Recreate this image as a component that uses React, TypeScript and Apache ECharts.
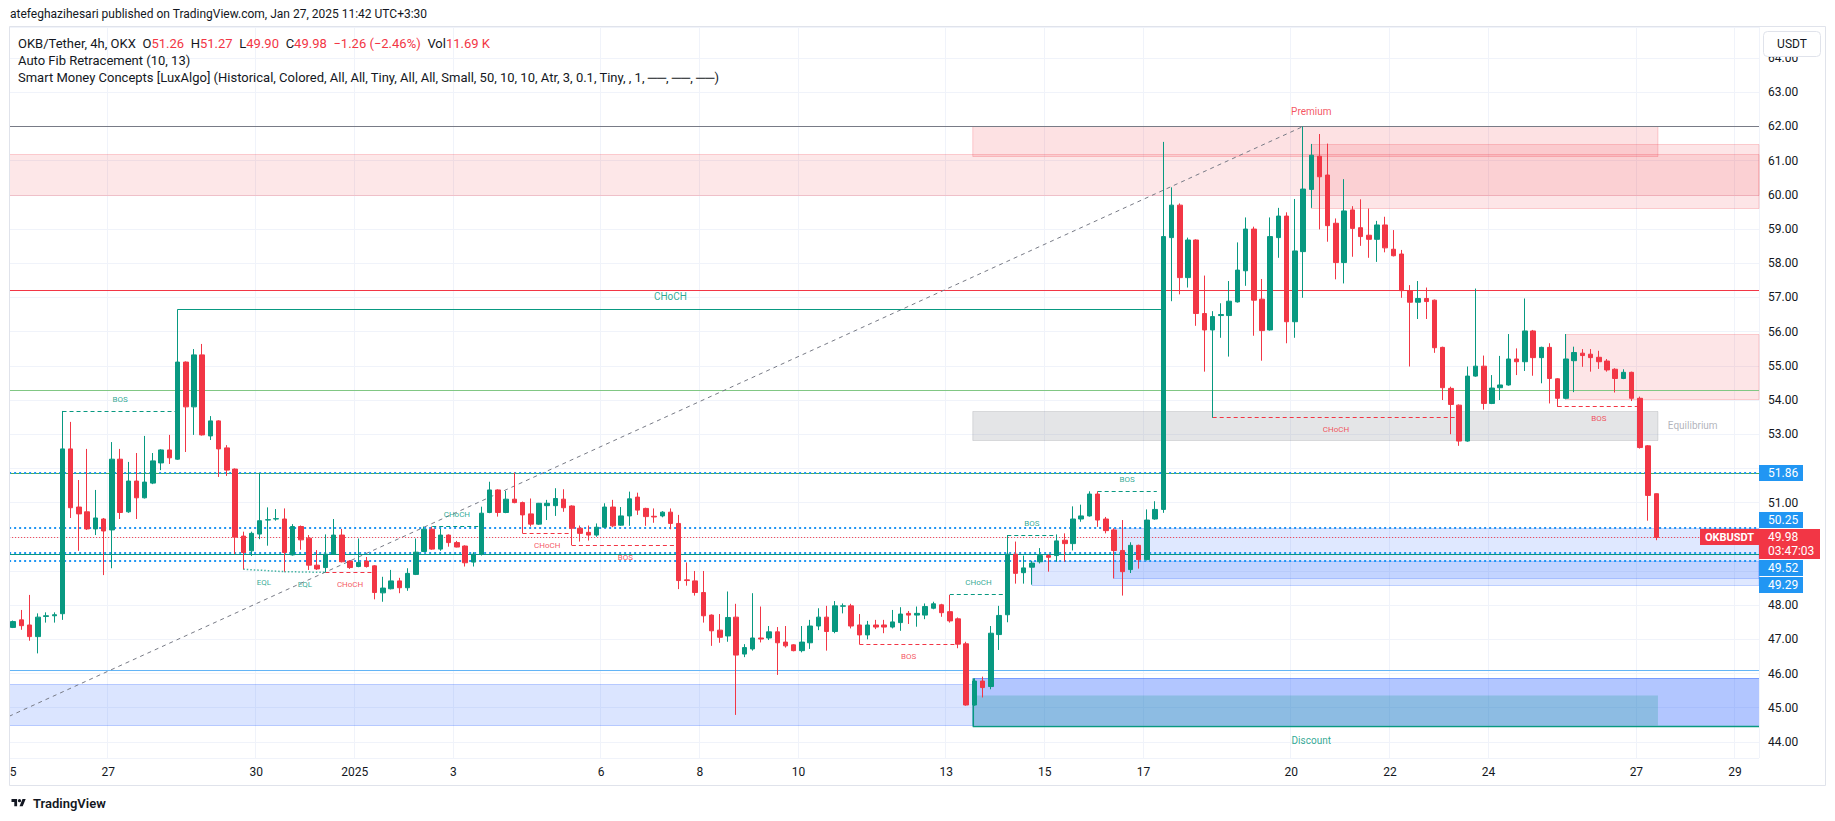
import React, { useEffect, useRef } from "react";
import * as echarts from "echarts";

const FONT = "Roboto, 'Liberation Sans', Arial, sans-serif";
const UP = "#089981";
const DOWN = "#F23645";
const TEXT = "#131722";
const GRID = "#f0f3fa";

// ---- 4h candles, Dec 25 -> Jan 27 ----
const opens = [
  47.35, 47.57, 47.42, 47.08, 47.67, 47.69, 47.75, 52.57, 50.87, 50.73,
  50.23, 50.52, 50.2, 52.27, 50.73, 51.63, 51.14, 51.57, 52.16, 52.54,
  52.27, 55.11, 53.8, 55.32, 52.95, 53.39, 52.6, 51.98, 50.02, 49.59,
  50.08, 50.49, 50.52, 50.52, 49.47, 50.3, 49.96, 49.17, 49.1, 49.49,
  50.05, 49.29, 49.13, 49.29, 49.15, 48.36, 48.48, 48.71, 48.51, 48.9,
  49.57, 50.22, 49.64, 50.05, 49.83, 49.73, 49.26, 49.49, 50.71, 51.37,
  50.71, 51.1, 51.0, 50.67, 50.37, 50.91, 50.91, 51.1, 50.9, 50.25,
  50.13, 50.05, 50.28, 50.87, 50.34, 50.61, 51.16, 50.83, 50.6, 50.61,
  50.72, 50.39, 48.74, 48.71, 48.37, 47.71, 47.27, 47.1, 47.65, 46.57,
  46.72, 47.04, 47.04, 47.22, 46.92, 46.84, 46.67, 46.9, 47.39, 47.65,
  47.23, 47.97, 47.98, 47.42, 47.13, 47.42, 47.42, 47.36, 47.49, 47.76,
  47.71, 47.71, 47.91, 48.01, 47.81, 47.6, 46.87, 45.08, 45.78, 45.62,
  47.14, 47.72, 49.49, 48.95, 49.11, 49.27, 49.45, 49.45, 49.9, 49.8,
  50.52, 50.61, 51.25, 50.52, 50.2, 49.6, 49.04, 49.75, 49.33, 50.52,
  50.8, 58.75, 59.7, 57.58, 58.68, 56.53, 56.05, 56.47, 56.47, 56.87,
  57.78, 59.0, 56.95, 56.05, 58.75, 59.38, 56.29, 58.34, 60.16, 61.13,
  60.58, 59.17, 58.02, 59.56, 59.04, 58.82, 58.7, 59.12, 58.41, 58.27,
  57.2, 56.86, 56.97, 56.92, 55.54, 54.34, 53.85, 52.8, 54.7, 54.99,
  53.9, 54.36, 54.44, 55.2, 55.12, 56.02, 55.24, 55.54, 54.62, 54.05,
  55.15, 55.37, 55.34, 55.25, 55.14, 54.9, 54.63, 54.81, 54.05, 52.66,
  51.26,
];
const highs = [
  47.55, 47.86, 48.3, 47.76, 47.79, 47.79, 53.68, 53.36, 51.66, 52.57,
  51.37, 50.55, 52.77, 52.57, 52.19, 52.45, 52.95, 52.45, 52.56, 52.98,
  56.65, 55.13, 55.49, 55.64, 53.53, 53.41, 52.68, 52.0, 50.15, 50.15,
  51.86, 50.86, 50.81, 50.83, 50.37, 50.33, 50.05, 49.61, 50.07, 50.52,
  50.23, 49.31, 49.95, 49.41, 49.17, 48.83, 49.03, 48.8, 49.08, 49.95,
  50.3, 50.3, 50.23, 50.07, 49.88, 49.75, 49.55, 50.88, 51.61, 51.39,
  51.34, 51.88, 51.03, 51.12, 50.99, 51.08, 51.42, 51.39, 50.92, 50.33,
  50.33, 50.39, 50.98, 51.08, 50.87, 51.32, 51.29, 50.85, 50.83, 50.75,
  50.83, 50.64, 49.25, 49.0, 49.0, 47.73, 47.74, 48.4, 48.04, 46.86,
  48.35, 47.96, 47.39, 47.36, 47.39, 46.86, 47.39, 47.57, 47.91, 47.98,
  48.12, 48.05, 48.04, 47.74, 47.54, 47.57, 47.57, 47.86, 47.94, 47.83,
  47.96, 48.05, 48.1, 48.04, 48.3, 47.64, 46.93, 45.86, 45.91, 47.39,
  47.98, 50.05, 49.86, 49.45, 49.3, 49.67, 49.49, 50.07, 50.1, 50.89,
  50.94, 51.33, 51.33, 50.58, 50.25, 50.49, 49.84, 49.77, 50.8, 51.04,
  61.55, 60.22, 59.75, 58.75, 58.7, 57.64, 56.6, 56.83, 57.48, 58.61,
  59.34, 59.07, 57.54, 59.34, 59.62, 59.49, 59.88, 62.0, 61.49, 61.78,
  61.5, 59.31, 60.46, 59.67, 59.87, 59.6, 59.24, 59.36, 58.97, 58.39,
  57.36, 57.48, 57.29, 56.94, 55.56, 54.39, 53.87, 54.98, 57.26, 55.3,
  54.73, 55.29, 55.93, 55.51, 56.97, 56.05, 55.56, 55.66, 54.64, 55.93,
  55.56, 55.49, 55.49, 55.44, 55.2, 54.93, 54.9, 54.83, 54.1, 52.68,
  51.27,
];
const lows = [
  47.33, 47.28, 46.96, 46.59, 47.49, 47.49, 47.57, 50.55, 49.59, 50.2,
  50.05, 48.88, 49.08, 50.52, 50.7, 50.52, 51.12, 51.54, 51.95, 52.13,
  52.25, 52.48, 52.98, 52.96, 52.83, 51.75, 51.78, 49.49, 49.05, 49.44,
  49.93, 49.74, 50.47, 48.98, 49.45, 49.62, 49.03, 49.03, 48.96, 49.47,
  49.25, 49.06, 49.11, 49.1, 48.17, 48.1, 48.46, 48.35, 48.42, 48.88,
  49.55, 49.62, 49.59, 49.71, 49.69, 49.13, 49.13, 49.45, 50.69, 50.59,
  50.69, 50.98, 50.1, 50.3, 50.35, 50.49, 50.61, 50.73, 49.75, 49.86,
  49.89, 50.0, 50.26, 50.28, 50.32, 50.32, 50.64, 50.32, 50.41, 50.57,
  50.22, 48.47, 48.57, 48.28, 47.49, 46.81, 46.9, 46.93, 44.79, 46.48,
  46.67, 46.91, 46.98, 45.96, 46.76, 46.65, 46.62, 46.72, 47.27, 46.67,
  47.18, 47.76, 47.32, 46.86, 47.0, 47.3, 47.18, 47.32, 47.25, 47.45,
  47.37, 47.59, 47.88, 47.66, 47.49, 46.74, 45.06, 45.06, 45.3, 45.54,
  46.69, 47.5, 48.63, 48.63, 48.6, 49.22, 48.98, 49.27, 49.27, 49.6,
  50.44, 50.59, 50.29, 50.1, 48.78, 48.28, 48.94, 49.07, 49.31, 50.5,
  50.7, 56.89, 57.09, 57.29, 56.17, 54.83, 53.48, 55.82, 55.27, 56.85,
  57.34, 55.88, 55.15, 56.03, 58.16, 55.66, 55.82, 56.99, 59.62, 58.99,
  58.63, 57.53, 57.41, 58.19, 58.51, 58.16, 58.04, 58.32, 58.2, 56.99,
  54.98, 56.37, 56.37, 55.38, 54.0, 53.0, 52.66, 52.78, 54.68, 53.72,
  53.88, 54.0, 54.42, 54.73, 54.85, 54.71, 54.49, 53.9, 53.8, 54.02,
  54.23, 54.97, 54.83, 54.91, 54.83, 54.22, 54.61, 53.97, 52.58, 50.47,
  49.9,
];
const closes = [
  47.52, 47.4, 47.08, 47.65, 47.69, 47.72, 52.57, 50.85, 50.67, 50.23,
  50.55, 50.17, 52.27, 50.71, 51.63, 51.14, 51.6, 52.22, 52.54, 52.31,
  55.11, 53.8, 55.32, 52.98, 53.39, 52.57, 51.95, 49.99, 49.54, 50.1,
  50.47, 50.5, 50.53, 49.54, 50.3, 49.91, 49.17, 49.06, 49.49, 50.05,
  49.27, 49.1, 49.25, 49.13, 48.37, 48.5, 48.71, 48.51, 48.93, 49.55,
  50.22, 49.64, 50.05, 49.83, 49.7, 49.24, 49.49, 50.69, 51.37, 50.71,
  51.1, 51.0, 50.64, 50.37, 50.98, 50.98, 51.12, 50.85, 50.25, 50.1,
  50.05, 50.28, 50.87, 50.32, 50.61, 51.11, 50.78, 50.59, 50.58, 50.72,
  50.39, 48.72, 48.72, 48.37, 47.69, 47.25, 47.06, 47.64, 46.54, 46.76,
  47.04, 47.01, 47.22, 46.9, 46.81, 46.67, 46.92, 47.39, 47.65, 47.23,
  47.98, 47.98, 47.39, 47.13, 47.42, 47.36, 47.36, 47.51, 47.74, 47.71,
  47.76, 47.96, 48.04, 47.78, 47.54, 46.86, 45.08, 45.78, 45.59, 47.18,
  47.7, 49.49, 48.93, 49.09, 49.23, 49.45, 49.4, 49.88, 49.8, 50.52,
  50.61, 51.25, 50.49, 50.18, 49.6, 48.98, 49.75, 49.33, 50.49, 50.8,
  58.78, 59.7, 57.58, 58.68, 56.53, 56.05, 56.44, 56.5, 56.89, 57.8,
  59.0, 56.92, 56.03, 58.78, 59.38, 56.29, 58.36, 60.17, 61.16, 60.53,
  59.1, 58.02, 59.53, 59.02, 58.78, 58.7, 59.12, 58.45, 58.22, 57.2,
  56.86, 56.97, 56.88, 55.53, 54.36, 53.87, 52.8, 54.7, 54.99, 53.9,
  54.35, 54.44, 55.2, 55.12, 56.02, 55.24, 55.54, 54.63, 54.05, 55.2,
  55.39, 55.3, 55.24, 55.12, 54.88, 54.63, 54.81, 54.05, 52.61, 51.21,
  49.98,
];

// ---- time axis ----
const SLOT_COUNT = 213; // bars + empty space to the right
const BARS_PER_DAY = 6;
const dayOffsets = [0, 2, 5, 7, 9, 12, 14, 16, 19, 21, 23, 26, 28, 30, 33, 35];
const dayLabels = ["25", "27", "30", "2025", "3", "6", "8", "10", "13", "15", "17", "20", "22", "24", "27", "29"];

// ---- price axis ----
const priceMin = 43.53;
const priceMax = 64.91;

// ---- Auto Fib retracement ----
const fibPrices = [62.0, 57.21, 54.27, 51.86, 49.49, 46.1];
const fibColors = ["#787b86", "#F23645", "#81c784", "#4caf50", "#089981", "#64b5f6"];
const fibTrendBars = [-0.5, 157];
const fibTrendPrices = [44.75, 62.0];

// ---- price marks ----
const markedPrices = [51.86, 50.25, 49.52, 49.29];
const lastPrice = 49.98;
const countdown = "03:47:03";
const symbolName = "OKBUSDT";

// ---- Smart Money Concepts zones: [kind, fromBar, toBar, low, high] ----
const zones = [
  ["redBand", -0.5, 212.5, 60.0, 61.2],
  ["blueBand", -0.5, 116.8, 44.5, 45.7],
  ["premium", 116.8, 200.2, 61.13, 62.0],
  ["equilibrium", 116.8, 200.2, 52.83, 53.69],
  ["bullBlock", 116.8, 212.5, 44.47, 45.87],
  ["discount", 116.8, 200.2, 44.5, 45.37],
  ["bullOB", 124, 212.5, 48.6, 49.3],
  ["bullOB", 134, 212.5, 48.78, 50.25],
  ["bearOB", 158, 212.5, 59.62, 61.49],
  ["bearOB", 189, 212.5, 54.02, 55.93],
];

// ---- structure breaks: [fromBar, toBar, price, label, dir(1 bull / -1 bear), swing] ----
const structures = [
  [6, 20, 53.66, "BOS", 1, 0],
  [20, 140, 56.65, "CHoCH", 1, 1],
  [38, 44, 48.96, "CHoCH", -1, 0],
  [51, 57, 50.3, "CHoCH", 1, 0],
  [62, 68, 50.1, "CHoCH", -1, 0],
  [68, 81, 49.75, "BOS", -1, 0],
  [103, 115, 46.86, "BOS", -1, 0],
  [114, 121, 48.3, "CHoCH", 1, 0],
  [121, 127, 50.05, "BOS", 1, 0],
  [132, 139.2, 51.33, "BOS", 1, 0],
  [146, 176, 53.48, "CHoCH", -1, 0],
  [188, 198, 53.8, "BOS", -1, 0],
];

// ---- equal lows: [fromBar, fromPrice, toBar, toPrice] ----
const equalLows = [
  [28, 49.05, 33, 48.98],
  [33, 48.98, 38, 48.96],
];

// ---- zone captions: [text, bar, price, placement] ----
const zoneCaptions = [
  ["Premium", 158, 62.0, "above"],
  ["Discount", 158, 44.5, "below"],
  ["Equilibrium", 201.4, 53.26, "right"],
];

const zoneStyles = {
  redBand: { fill: "rgba(242,54,69,0.12)", stroke: "rgba(242,54,69,0.22)" },
  blueBand: { fill: "rgba(41,98,255,0.17)", stroke: "rgba(41,98,255,0.28)" },
  premium: { fill: "rgba(242,54,69,0.15)", stroke: "rgba(242,54,69,0.22)" },
  equilibrium: { fill: "rgba(120,123,134,0.2)", stroke: "rgba(120,123,134,0.22)" },
  bullBlock: { fill: "rgba(41,98,255,0.36)", stroke: null, top: "rgba(41,98,255,0.55)", left: "#089981", bottom: "#089981" },
  discount: { fill: "rgba(8,153,129,0.22)", stroke: null },
  bullOB: { fill: "rgba(41,98,255,0.15)", stroke: "rgba(41,98,255,0.25)" },
  bearOB: { fill: "rgba(242,54,69,0.13)", stroke: "rgba(242,54,69,0.22)" },
};

const TV_LOGO = "M14 22H7V11H0V4h14v18zM28 22h-8l7.5-18h8L28 22zM24 8a4 4 0 1 1-8 0a4 4 0 1 1 8 0z";
let logoRegistered = false;

export default function App() {
  const ref = useRef(null);

  useEffect(() => {
    if (!ref.current) return;
    if (!logoRegistered) {
      echarts.graphic.registerShape("tvlogo", echarts.graphic.extendPath(TV_LOGO, {}));
      logoRegistered = true;
    }
    const chart = echarts.init(ref.current, null, { renderer: "svg" });

    const slots = [];
    for (let i = 0; i < SLOT_COUNT; i++) slots.push(String(i));
    const labelByIndex = new Map();
    dayOffsets.forEach((d, k) => labelByIndex.set(d * BARS_PER_DAY, dayLabels[k]));

    const candleData = slots.map((_, i) =>
      i < opens.length ? [opens[i], closes[i], lows[i], highs[i]] : ["-", "-", "-", "-"]
    );

    // price-scale ticks hidden where a price label sits on top of them
    const flagged = markedPrices.concat([lastPrice]);
    const tickHidden = (v) => flagged.some((p) => Math.abs(p - v) < 0.4);

    // line segments derived from the data lists
    const segments = [];
    fibPrices.forEach((p, k) =>
      segments.push({ x0: -0.5, y0: p, x1: SLOT_COUNT - 0.5, y1: p, color: fibColors[k], width: 1, dash: null })
    );
    segments.push({
      x0: fibTrendBars[0], y0: fibTrendPrices[0], x1: fibTrendBars[1], y1: fibTrendPrices[1],
      color: "#787b86", width: 1, dash: [4, 4],
    });
    markedPrices.forEach((p) =>
      segments.push({ x0: -0.5, y0: p, x1: SLOT_COUNT - 0.5, y1: p, color: "#2196F3", width: 2, dash: [2, 3] })
    );
    segments.push({ x0: -0.5, y0: lastPrice, x1: SLOT_COUNT - 0.5, y1: lastPrice, color: DOWN, width: 1, dash: [1, 2] });
    structures.forEach((s) =>
      segments.push({
        x0: s[0], y0: s[2], x1: s[1], y1: s[2],
        color: s[4] > 0 ? UP : DOWN, width: 1, dash: s[5] ? null : [4, 3],
      })
    );
    equalLows.forEach((e) =>
      segments.push({ x0: e[0], y0: e[1], x1: e[2], y1: e[3], color: "rgba(8,153,129,0.75)", width: 1.5, dash: [1.5, 2] })
    );

    // text labels derived from the data lists
    const labels = [];
    structures.forEach((s) => {
      const swing = !!s[5];
      labels.push({
        text: s[3], x: (s[0] + s[1]) / 2, y: s[2],
        dy: s[4] > 0 ? (swing ? -13 : -12) : 12,
        color: s[4] > 0 ? UP : DOWN, size: swing ? 10 : 8, align: "center",
      });
    });
    equalLows.forEach((e) =>
      labels.push({ text: "EQL", x: (e[0] + e[2]) / 2, y: (e[1] + e[3]) / 2, dy: 12, color: UP, size: 8, align: "center" })
    );
    zoneCaptions.forEach((c) => {
      const color = c[0] === "Premium" ? DOWN : c[0] === "Discount" ? UP : "#a3a6af";
      labels.push({
        text: c[0], x: c[1], y: c[2],
        dy: c[3] === "above" ? -15 : c[3] === "below" ? 16 : 0,
        color, size: 10, align: c[3] === "right" ? "left" : "center",
      });
    });

    const option = {
      animation: false,
      backgroundColor: "#ffffff",
      grid: { left: 7, right: 76, top: 27, bottom: 63, containLabel: false },
      xAxis: [
        {
          type: "category",
          data: slots,
          boundaryGap: true,
          axisLine: { show: false },
          axisTick: { show: false },
          axisLabel: {
            interval: (idx) => labelByIndex.has(idx),
            formatter: (_v, idx) => labelByIndex.get(idx) ?? "",
            color: TEXT,
            fontSize: 12,
            fontFamily: FONT,
            margin: 8,
            padding: [0, 7, 0, 0],
          },
          splitLine: {
            show: true,
            interval: (idx) => labelByIndex.has(idx),
            lineStyle: { color: GRID, width: 1 },
          },
        },
        { type: "value", min: -0.5, max: SLOT_COUNT - 0.5, show: false },
      ],
      yAxis: {
        type: "value",
        position: "right",
        min: priceMin,
        max: priceMax,
        minInterval: 1,
        maxInterval: 1,
        splitNumber: 21,
        axisLine: { show: false },
        axisTick: { show: false },
        axisLabel: {
          color: TEXT,
          fontSize: 12,
          fontFamily: FONT,
          margin: 9,
          showMinLabel: false,
          showMaxLabel: false,
          formatter: (v) => (tickHidden(v) ? "" : v.toFixed(2)),
        },
        splitLine: { lineStyle: { color: GRID, width: 1 } },
      },
      series: [
        {
          type: "custom",
          name: "zones",
          xAxisIndex: 1,
          yAxisIndex: 0,
          z: 1,
          clip: true,
          silent: true,
          data: zones.map((z) => [z[1], z[4], z[2], z[3]]),
          renderItem: (params, api) => {
            const z = zones[params.dataIndex];
            const st = zoneStyles[z[0]];
            const tl = api.coord([z[1], z[4]]);
            const br = api.coord([z[2], z[3]]);
            const x0 = tl[0];
            const x1 = br[0];
            const y0 = Math.round(tl[1]) + 0.5;
            const y1 = y0 + Math.round(br[1] - tl[1]);
            const children = [
              {
                type: "rect",
                shape: { x: x0, y: y0, width: x1 - x0, height: y1 - y0 },
                style: { fill: st.fill, stroke: st.stroke || "none", lineWidth: st.stroke ? 1 : 0 },
              },
            ];
            if (st.top) children.push({ type: "line", shape: { x1: x0, y1: y0, x2: x1, y2: y0 }, style: { stroke: st.top, lineWidth: 1 } });
            if (st.left) children.push({ type: "line", shape: { x1: x0 + 0.5, y1: y0, x2: x0 + 0.5, y2: y1 }, style: { stroke: st.left, lineWidth: 1.5 } });
            if (st.bottom) children.push({ type: "line", shape: { x1: x0, y1: y1, x2: x1, y2: y1 }, style: { stroke: st.bottom, lineWidth: 1.5 } });
            return { type: "group", children };
          },
        },
        {
          type: "custom",
          name: "lines",
          xAxisIndex: 1,
          yAxisIndex: 0,
          z: 2,
          clip: true,
          silent: true,
          data: segments.map((s) => [s.x0, s.y0, s.x1, s.y1]),
          renderItem: (params, api) => {
            const s = segments[params.dataIndex];
            const a = api.coord([s.x0, s.y0]);
            const b = api.coord([s.x1, s.y1]);
            let y1 = a[1];
            let y2 = b[1];
            if (s.y0 === s.y1) {
              y1 = y2 = s.width === 2 ? Math.round(y1) : Math.round(y1 - 0.5) + 0.5;
            }
            return {
              type: "line",
              shape: { x1: a[0], y1, x2: b[0], y2 },
              style: { stroke: s.color, lineWidth: s.width, lineDash: s.dash || null },
            };
          },
        },
        {
          type: "candlestick",
          name: "OKB/USDT",
          xAxisIndex: 0,
          yAxisIndex: 0,
          z: 3,
          barWidth: 5,
          data: candleData,
          itemStyle: {
            color: UP,
            color0: DOWN,
            borderColor: UP,
            borderColor0: DOWN,
            borderWidth: 1,
          },
        },
        {
          type: "custom",
          name: "labels",
          xAxisIndex: 1,
          yAxisIndex: 0,
          z: 4,
          clip: true,
          silent: true,
          data: labels.map((l) => [l.x, l.y]),
          renderItem: (params, api) => {
            const l = labels[params.dataIndex];
            const p = api.coord([l.x, l.y]);
            return {
              type: "text",
              x: p[0],
              y: p[1] + l.dy,
              style: {
                text: l.text,
                fill: l.color,
                fontSize: l.size,
                fontFamily: FONT,
                align: l.align,
                verticalAlign: "middle",
                opacity: 0.85,
              },
            };
          },
        },
      ],
    };

    chart.setOption(option);

    // price-scale labels positioned through the axis scale
    const yOf = (p) => chart.convertToPixel({ yAxisIndex: 0 }, p);
    const axisX = 1759;
    const g = [];
    const redTop = Math.round(yOf(lastPrice)) - 8;
    const redH = 30;
    const boxH = 16;
    const blueBoxes = [];
    let limit = redTop - 1;
    markedPrices.filter((p) => p > lastPrice).sort((a, b) => a - b).forEach((p) => {
      let top = Math.round(yOf(p)) - 8;
      if (top + boxH > limit) top = limit - boxH;
      limit = top - 1;
      blueBoxes.push([p, top]);
    });
    limit = redTop + redH + 1;
    markedPrices.filter((p) => p < lastPrice).sort((a, b) => b - a).forEach((p) => {
      let top = Math.round(yOf(p)) - 8;
      if (top < limit) top = limit;
      limit = top + boxH + 1;
      blueBoxes.push([p, top]);
    });
    blueBoxes.forEach(([p, top]) => {
      g.push({ type: "rect", z: 100, shape: { x: axisX, y: top, width: 44, height: boxH }, style: { fill: "#2196F3" } });
      g.push({
        type: "text", z: 101, x: axisX + 9, y: top + boxH / 2,
        style: { text: p.toFixed(2), fill: "#ffffff", fontSize: 12, fontFamily: FONT, align: "left", verticalAlign: "middle" },
      });
    });
    g.push({ type: "rect", z: 100, shape: { x: axisX, y: redTop, width: 61, height: redH }, style: { fill: DOWN } });
    g.push({
      type: "text", z: 101, x: axisX + 9, y: redTop + 8,
      style: { text: lastPrice.toFixed(2), fill: "#ffffff", fontSize: 12, fontFamily: FONT, align: "left", verticalAlign: "middle" },
    });
    g.push({
      type: "text", z: 101, x: axisX + 9, y: redTop + 22,
      style: { text: countdown, fill: "#ffffff", fontSize: 12, fontFamily: FONT, align: "left", verticalAlign: "middle" },
    });
    g.push({ type: "rect", z: 100, shape: { x: axisX - 59, y: redTop, width: 59, height: 16 }, style: { fill: DOWN } });
    g.push({
      type: "text", z: 101, x: axisX - 29.5, y: redTop + 8,
      style: { text: symbolName, fill: "#ffffff", fontSize: 11, fontWeight: "bold", fontFamily: FONT, align: "center", verticalAlign: "middle" },
    });

    // frame, header, currency button, logo
    g.push({ type: "rect", z: 90, shape: { x: 0, y: 26, width: 9.5, height: 760 }, style: { fill: "#ffffff" } });
    g.push({ type: "rect", z: 99, shape: { x: 9.5, y: 26.5, width: 1816, height: 759 }, style: { fill: "none", stroke: "#e0e3eb", lineWidth: 1 } });
    g.push({ type: "rect", z: 102, shape: { x: 1763.5, y: 31.5, width: 57, height: 25, r: 4 }, style: { fill: "#ffffff", stroke: "#e0e3eb", lineWidth: 1 } });
    g.push({
      type: "text", z: 103, x: 1792, y: 44,
      style: { text: "USDT", fill: TEXT, fontSize: 12, fontFamily: FONT, align: "center", verticalAlign: "middle" },
    });
    g.push({
      type: "text", z: 101, x: 10, y: 14,
      style: { text: "atefeghazihesari published on TradingView.com, Jan 27, 2025 11:42 UTC+3:30", fill: TEXT, fontSize: 12, fontFamily: FONT, align: "left", verticalAlign: "middle" },
    });
    const rich = {
      k: { fill: TEXT, fontSize: 13, fontFamily: FONT },
      r: { fill: DOWN, fontSize: 13, fontFamily: FONT },
    };
    g.push({
      type: "text", z: 101, x: 18, y: 43,
      style: {
        text: "{k|OKB/Tether, 4h, OKX}  {k|O}{r|51.26}  {k|H}{r|51.27}  {k|L}{r|49.90}  {k|C}{r|49.98}  {r|−1.26 (−2.46%)}  {k|Vol}{r|11.69 K}",
        rich, align: "left", verticalAlign: "middle",
      },
    });
    g.push({
      type: "text", z: 101, x: 18, y: 60,
      style: { text: "Auto Fib Retracement (10, 13)", fill: TEXT, fontSize: 13, fontFamily: FONT, align: "left", verticalAlign: "middle" },
    });
    g.push({
      type: "text", z: 101, x: 18, y: 77,
      style: {
        text: "Smart Money Concepts [LuxAlgo] (Historical, Colored, All, All, Tiny, All, All, Small, 50, 10, 10, Atr, 3, 0.1, Tiny, , 1, ──, ──, ──)",
        fill: TEXT, fontSize: 13, fontFamily: FONT, align: "left", verticalAlign: "middle",
      },
    });
    g.push({ type: "tvlogo", z: 101, x: 11.5, y: 797.5, scaleX: 0.4, scaleY: 0.4, style: { fill: TEXT } });
    g.push({
      type: "text", z: 101, x: 33, y: 803,
      style: { text: "TradingView", fill: TEXT, fontSize: 13, fontWeight: 600, fontFamily: FONT, align: "left", verticalAlign: "middle" },
    });

    chart.setOption({ graphic: g });

    return () => chart.dispose();
  }, []);

  return (
    <div
      ref={ref}
      style={{ position: "fixed", left: 0, top: 0, width: 1835, height: 821, background: "#ffffff" }}
    />
  );
}
